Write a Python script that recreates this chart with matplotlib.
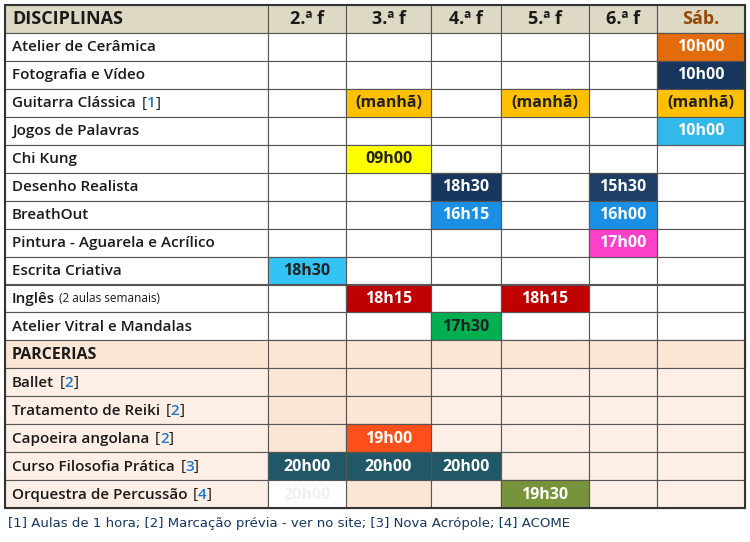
import matplotlib
matplotlib.use("Agg")
import matplotlib.pyplot as plt
from matplotlib.patches import Rectangle

days = ["2.ª f", "3.ª f", "4.ª f", "5.ª f", "6.ª f", "Sáb."]
disciplinas = ["Atelier de Cerâmica", "Fotografia e Vídeo", "Guitarra Clássica", "Jogos de Palavras",
               "Chi Kung", "Desenho Realista", "BreathOut", "Pintura - Aguarela e Acrílico",
               "Escrita Criativa", "Inglês", "Atelier Vitral e Mandalas"]
disc_notes = ["", "", "1", "", "", "", "", "", "", "", ""]
parcerias = ["Ballet", "Tratamento de Reiki", "Capoeira angolana", "Curso Filosofia Prática", "Orquestra de Percussão"]
parc_notes = ["2", "2", "2", "3", "4"]
# (row, day index, text)
disc_slots = [(0, 5, "10h00"), (1, 5, "10h00"), (2, 1, "(manhã)"), (2, 3, "(manhã)"), (2, 5, "(manhã)"),
              (3, 5, "10h00"), (4, 1, "09h00"), (5, 2, "18h30"), (5, 4, "15h30"), (6, 2, "16h15"),
              (6, 4, "16h00"), (7, 4, "17h00"), (8, 0, "18h30"), (9, 1, "18h15"), (9, 3, "18h15"),
              (10, 2, "17h30")]
parc_slots = [(2, 1, "19h00"), (3, 0, "20h00"), (3, 1, "20h00"), (3, 2, "20h00"), (4, 3, "19h30"),
              (4, 0, "20h00")]
footnote = "[1] Aulas de 1 hora; [2] Marcação prévia - ver no site; [3] Nova Acrópole; [4] ACOME"

disc_colors = ["#E36C0A", "#17365D", "#FFC000", "#FFC000", "#FFC000", "#33B8EA", "#FFFF00", "#17375E",
               "#1F3F66", "#1A8FE3", "#1A8FE3", "#FF40C8", "#33C3F5", "#C00000", "#C00000", "#00B050"]
disc_tc = ["white", "white", "#222", "#222", "#222", "white", "#222", "white", "white", "white", "white",
           "white", "#222", "white", "white", "#222"]
parc_colors = ["#FF4F1A", "#215867", "#215867", "#215867", "#77933C", "white"]
parc_tc = ["white", "white", "white", "white", "white", "#f0f0f0"]

W, H = 750, 542
fig = plt.figure(figsize=(7.5, 5.42), dpi=100)
ax = fig.add_axes([0, 0, 1, 1])
ax.set_xlim(0, W); ax.set_ylim(H, 0); ax.axis("off")

xs = [5, 268, 346, 431, 501, 589, 657, 745]
top, rh = 5, 27.95
FONT = ["Open Sans", "DejaVu Sans"]
NS = 11

def cell(r, c, color, text="", tc="#222", size=11.5):
    y = top + r * rh
    ax.add_patch(Rectangle((xs[c], y), xs[c + 1] - xs[c], rh, fc=color, ec="#555", lw=0.8))
    if text:
        ax.text((xs[c] + xs[c + 1]) / 2, y + rh / 2 + 0.5, text, ha="center", va="center",
                fontsize=size, color=tc, fontweight="bold", family=FONT)

def name_cell(r, name, note, bg, extra=""):
    y = top + r * rh
    ax.add_patch(Rectangle((xs[0], y), xs[1] - xs[0], rh, fc=bg, ec="#555", lw=0.8))
    t = ax.text(xs[0] + 7, y + rh / 2 + 0.5, name, ha="left", va="center", fontsize=NS,
                color="#1a1a1a", fontweight="semibold", family=FONT)
    if extra:
        ax.annotate(extra, xycoords=t, xy=(1, 0.5), xytext=(3, 0), textcoords="offset points",
                    va="center", fontsize=8.5, color="#1a1a1a", family=FONT)
    if note:
        a1 = ax.annotate("[", xycoords=t, xy=(1, 0.5), xytext=(4, 0), textcoords="offset points",
                         va="center", fontsize=NS, color="#1a1a1a", family=FONT)
        a2 = ax.annotate(note, xycoords=a1, xy=(1, 0.5), va="center", fontsize=NS, color="#1F78C8",
                         family=FONT, fontweight="semibold")
        ax.annotate("]", xycoords=a2, xy=(1, 0.5), va="center", fontsize=NS, color="#1a1a1a", family=FONT)

hdr = "#DDD9C4"
ax.add_patch(Rectangle((xs[0], top), xs[1] - xs[0], rh, fc=hdr, ec="#555", lw=0.8))
ax.text(xs[0] + 7, top + rh / 2 + 0.5, "DISCIPLINAS", ha="left", va="center", fontsize=13,
        fontweight="bold", color="#1a1a1a", family=FONT)
for i, d in enumerate(days):
    cell(0, i + 1, hdr, d, tc="#984806" if d == "Sáb." else "#1a1a1a", size=13)

for i, n in enumerate(disciplinas):
    name_cell(i + 1, n, disc_notes[i], "white", "(2 aulas semanais)" if n == "Inglês" else "")
    for c in range(6):
        cell(i + 1, c + 1, "white")
for (r, c, t), col, tc in zip(disc_slots, disc_colors, disc_tc):
    cell(r + 1, c + 1, col, t, tc=tc)

pr = len(disciplinas) + 1
peach, peach2 = "#FDEFE5", "#FBE6D6"
ax.add_patch(Rectangle((xs[0], top + pr * rh), xs[-1] - xs[0], rh, fc=peach2, ec="#555", lw=0.8))
ax.text(xs[0] + 7, top + pr * rh + rh / 2 + 0.5, "PARCERIAS", ha="left", va="center", fontsize=11.5,
        fontweight="bold", color="#1a1a1a", family=FONT)
for c in range(6):
    cell(pr, c + 1, peach2)
for i, n in enumerate(parcerias):
    name_cell(pr + 1 + i, n, parc_notes[i], peach)
    for c in range(6):
        cell(pr + 1 + i, c + 1, peach2 if c in (0, 1) else peach)
for (r, c, t), col, tc in zip(parc_slots, parc_colors, parc_tc):
    cell(pr + 1 + r, c + 1, col, t, tc=tc)

ax.add_patch(Rectangle((xs[0], top), xs[-1] - xs[0], (pr + 6) * rh, fill=False, ec="#333", lw=1.5))
ax.text(8, 524, footnote, ha="left", va="center", fontsize=9.5, color="#17365D",
        family=["Liberation Sans Narrow", "DejaVu Sans"])

fig.savefig("out.png", dpi=100)
